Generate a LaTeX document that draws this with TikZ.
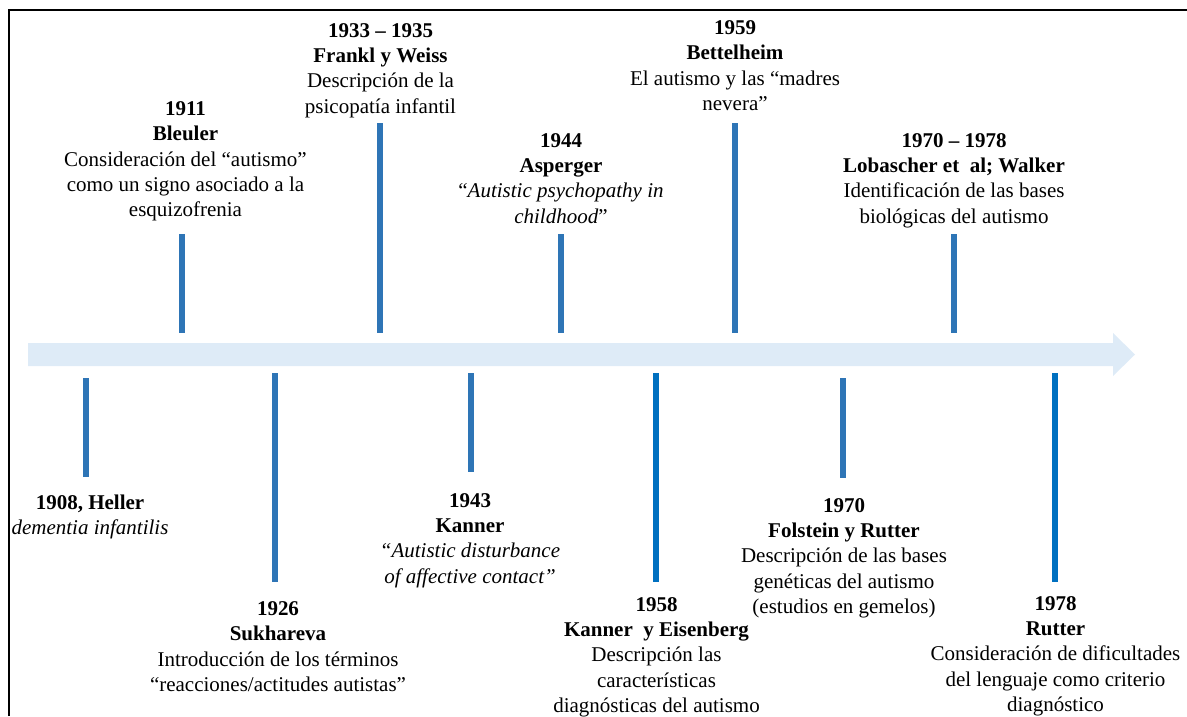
\documentclass[tikz,border=0pt]{standalone}
\usepackage{fontspec}
\setmainfont{Liberation Serif}
\definecolor{barblue}{HTML}{2E75B6}
\definecolor{barbright}{HTML}{0070C0}
\definecolor{axisfill}{HTML}{DEEBF7}
\begin{document}
\begin{tikzpicture}[x=1pt,y=-1pt,
  lbl/.style={align=center, anchor=north, inner sep=0pt, text=black,
    font=\fontsize{21}{25.3}\selectfont},
  tick/.style={line width=6pt, barblue},
  tickb/.style={line width=6pt, barbright},
]
\useasboundingbox (0,0) rectangle (1187,716);
% frame
\draw[line width=2pt] (8.5,716) -- (8.5,9.5) -- (1187,9.5);
% time axis arrow
\fill[axisfill] (28,343) -- (1113,343) -- (1113,333) -- (1135,354.5)
  -- (1113,376) -- (1113,366) -- (28,366) -- cycle;

% ticks above the axis
\draw[tick] (182,234) -- (182,333);
\draw[tick] (380,123) -- (380,333);
\draw[tick] (561,234) -- (561,333);
\draw[tick] (735,123) -- (735,333);
\draw[tick] (954,234) -- (954,333);
% ticks below the axis
\draw[tick] (86,378) -- (86,477);
\draw[tick] (275,373) -- (275,582);
\draw[tick] (471,373) -- (471,472);
\draw[tickb] (656,373) -- (656,582);
\draw[tick] (843,378) -- (843,478);
\draw[tickb] (1055,373) -- (1055,582);

% events above
\node[lbl] (bleuler) at (185.5,101.5) {\textbf{1911}\\\textbf{Bleuler}\\Consideración del “autismo”\\como un signo asociado a la\\esquizofrenia};
\node[lbl] (frankl) at (380.5,23) {\textbf{1933 – 1935}\\\textbf{Frankl y Weiss}\\Descripción de la\\psicopatía infantil};
\node[lbl] (asperger) at (561,133) {\textbf{1944}\\\textbf{Asperger}\\“\textit{Autistic psychopathy in}\\\textit{childhood}”};
\node[lbl] (bettelheim) at (735,20.5) {\textbf{1959}\\\textbf{Bettelheim}\\El autismo y las “madres\\nevera”};
\node[lbl] (lobascher) at (954,133) {\textbf{1970 – 1978}\\\textbf{Lobascher et\ \ al; Walker}\\Identificación de las bases\\biológicas del autismo};

% events below
\node[lbl] (heller) at (90,494.5) {\textbf{1908, Heller}\\\textit{dementia infantilis}};
\node[lbl] (sukhareva) at (278,601.5) {\textbf{1926}\\\textbf{Sukhareva}\\Introducción de los términos\\“reacciones/actitudes autistas”};
\node[lbl] (kanner) at (470,493) {\textbf{1943}\\\textbf{Kanner}\\\textit{“Autistic disturbance}\\\textit{of affective contact”}};
\node[lbl] (eisenberg) at (656.5,597) {\textbf{1958}\\\textbf{Kanner\ \ y Eisenberg}\\Descripción las\\características\\diagnósticas del autismo};
\node[lbl] (folstein) at (844,498) {\textbf{1970}\\\textbf{Folstein y Rutter}\\Descripción de las bases\\genéticas del autismo\\(estudios en gemelos)};
\node[lbl] (rutter) at (1055.5,596) {\textbf{1978}\\\textbf{Rutter}\\Consideración de dificultades\\del lenguaje como criterio\\diagnóstico};
\end{tikzpicture}
\end{document}
